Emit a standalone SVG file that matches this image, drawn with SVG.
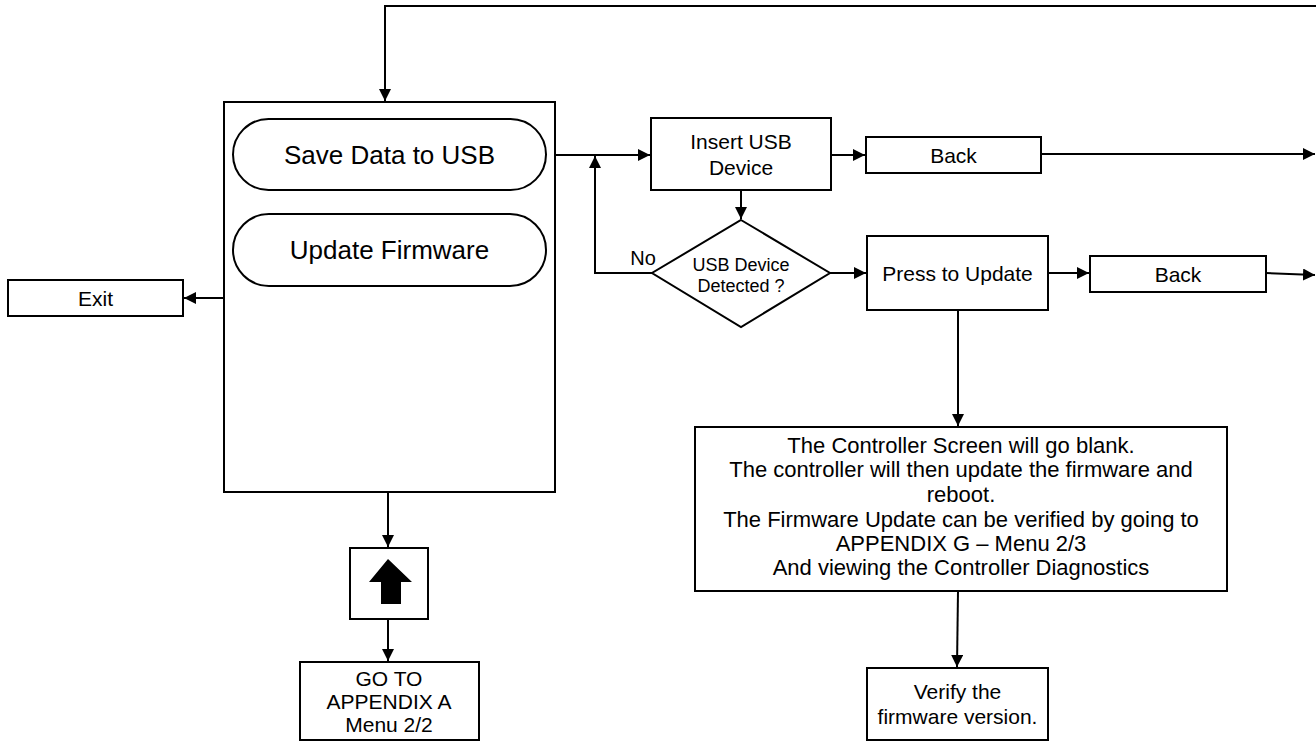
<svg xmlns="http://www.w3.org/2000/svg" width="1316" height="750" viewBox="0 0 1316 750">
<style>
  .box{fill:#fff;stroke:#000;stroke-width:2}
  .ln{fill:none;stroke:#000;stroke-width:2}
  text{font-family:"Liberation Sans",Arial,sans-serif;fill:#000;text-anchor:middle}
  .big{font-size:26px}
  .md{font-size:21px}
  .sm{font-size:21px}
  .bx{font-size:22px}
  .xs{font-size:18px}
  .no{font-size:20px}
</style>
<defs>
  <marker id="ah" viewBox="0 0 10 10" refX="10" refY="5" markerWidth="12" markerHeight="12" markerUnits="userSpaceOnUse" orient="auto">
    <path d="M0,0 L10,5 L0,10 Z" fill="#000"/>
  </marker>
</defs>
<rect width="1316" height="750" fill="#fff"/>
<g id="connectors">
  <path class="ln" d="M1316,6 L385,6 L385,101" marker-end="url(#ah)"/>
  <path class="ln" d="M224,298 L184,298" marker-end="url(#ah)"/>
  <path class="ln" d="M555,155 L650,155" marker-end="url(#ah)"/>
  <path class="ln" d="M652,273 L595,273 L595,156" marker-end="url(#ah)"/>
  <path class="ln" d="M831,155 L865,155" marker-end="url(#ah)"/>
  <path class="ln" d="M1041,154 L1315,154" marker-end="url(#ah)"/>
  <path class="ln" d="M741,190 L741,219" marker-end="url(#ah)"/>
  <path class="ln" d="M830,273 L866,273" marker-end="url(#ah)"/>
  <path class="ln" d="M1048,273 L1089,273" marker-end="url(#ah)"/>
  <path class="ln" d="M1266,273 L1315,275" marker-end="url(#ah)"/>
  <path class="ln" d="M958,310 L958,426" marker-end="url(#ah)"/>
  <path class="ln" d="M958,591 L957,667" marker-end="url(#ah)"/>
  <path class="ln" d="M388,492 L388,547" marker-end="url(#ah)"/>
  <path class="ln" d="M388,619 L388,661" marker-end="url(#ah)"/>
</g>
<g id="main-screen">
  <rect class="box" x="224" y="102" width="331" height="390"/>
</g>
<g id="save-data">
  <rect class="box" x="233" y="119" width="313" height="71" rx="35.5"/>
  <text class="big" x="389.5" y="164">Save Data to USB</text>
</g>
<g id="update-firmware">
  <rect class="box" x="233" y="214" width="313" height="72" rx="36"/>
  <text class="big" x="389.5" y="259">Update Firmware</text>
</g>
<g id="exit">
  <rect class="box" x="8" y="280" width="175" height="36"/>
  <text class="sm" x="95.5" y="305.5">Exit</text>
</g>
<g id="insert-usb">
  <rect class="box" x="651" y="118" width="180" height="72"/>
  <text class="md" x="741" y="149">Insert USB</text>
  <text class="md" x="741" y="175">Device</text>
</g>
<g id="back-1">
  <rect class="box" x="866" y="137" width="175" height="36"/>
  <text class="sm" x="953.5" y="162.5">Back</text>
</g>
<g id="usb-detected">
  <path class="box" d="M741,220 L830,273 L741,327 L652,273 Z"/>
  <text class="xs" x="741" y="270.5">USB Device</text>
  <text class="xs" x="741" y="291.5">Detected ?</text>
  <text class="no" x="643" y="265">No</text>
</g>
<g id="press-update">
  <rect class="box" x="867" y="236" width="181" height="74"/>
  <text class="md" x="957.5" y="280.5">Press to Update</text>
</g>
<g id="back-2">
  <rect class="box" x="1090" y="256" width="176" height="36"/>
  <text class="sm" x="1178" y="281.5">Back</text>
</g>
<g id="firmware-info">
  <rect class="box" x="695" y="427" width="532" height="164"/>
  <text class="bx" x="961" y="453">The Controller Screen will go blank.</text>
  <text class="bx" x="961" y="477">The controller will then update the firmware and</text>
  <text class="bx" x="961" y="502">reboot.</text>
  <text class="bx" x="961" y="527">The Firmware Update can be verified by going to</text>
  <text class="bx" x="961" y="551">APPENDIX G – Menu 2/3</text>
  <text class="bx" x="961" y="575">And viewing the Controller Diagnostics</text>
</g>
<g id="verify">
  <rect class="box" x="867" y="668" width="181" height="72"/>
  <text class="sm" x="957.5" y="699">Verify the</text>
  <text class="sm" x="957.5" y="724">firmware version.</text>
</g>
<g id="up-icon">
  <rect class="box" x="350" y="548" width="78" height="71"/>
  <path d="M388,559 L412,582 L401,582 L401,604 L381,604 L381,582 L369,582 Z" fill="#000"/>
</g>
<g id="goto-a">
  <rect class="box" x="300" y="662" width="179" height="78"/>
  <text class="sm" x="389" y="686">GO TO</text>
  <text class="sm" x="389" y="708.5">APPENDIX A</text>
  <text class="sm" x="389" y="731.5">Menu 2/2</text>
</g>
</svg>
